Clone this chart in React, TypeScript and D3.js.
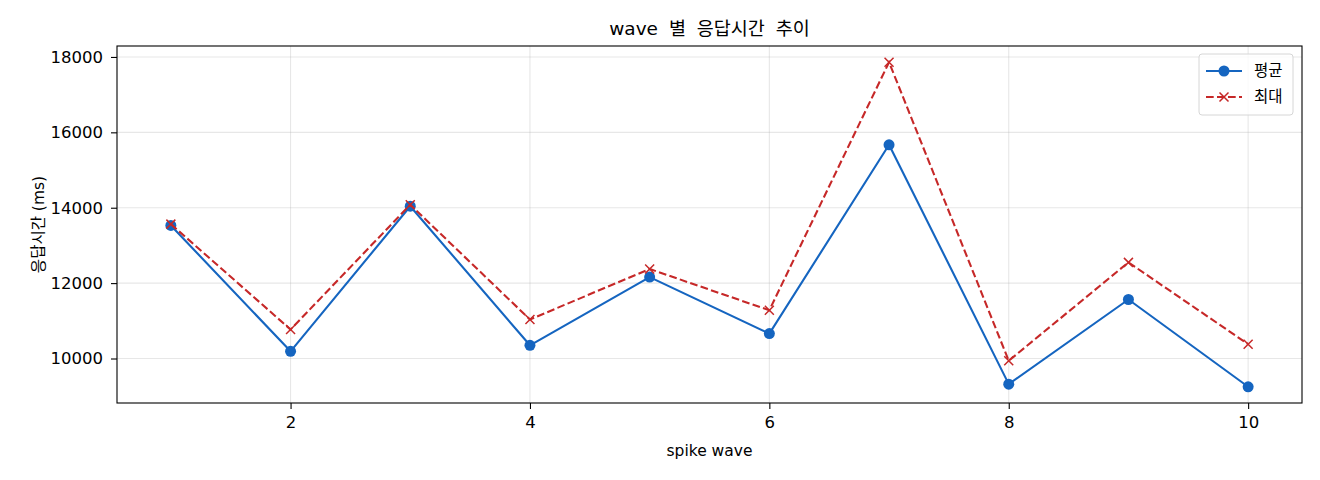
import { useRef, useEffect } from 'react';
import * as d3 from 'd3';

const waves = [1, 2, 3, 4, 5, 6, 7, 8, 9, 10];
const meanValues = [13530, 10190, 14040, 10350, 12160, 10660, 15670, 9320, 11565, 9250];
const maxValues = [13565, 10770, 14080, 11035, 12375, 11280, 17860, 9940, 12550, 10380];
const xTicks = [2, 4, 6, 8, 10];
const yTicks = [10000, 12000, 14000, 16000, 18000];
const seriesNames = ['평균', '최대'];

const WIDTH = 1320;
const HEIGHT = 480;
const MARGIN = { top: 46, right: 18, bottom: 77, left: 117 };
const FONT = '"DejaVu Sans", "Noto Sans CJK KR", sans-serif';
const BLUE = '#1565c0';
const RED = '#c62828';

export default function App() {
  const svgRef = useRef<SVGSVGElement>(null);

  useEffect(() => {
    if (!svgRef.current) return;
    const svg = d3.select(svgRef.current);
    svg.selectAll('*').remove();

    const innerWidth = WIDTH - MARGIN.left - MARGIN.right;
    const innerHeight = HEIGHT - MARGIN.top - MARGIN.bottom;

    // matplotlib-style 5% margins
    const xPad = (d3.max(waves)! - d3.min(waves)!) * 0.05;
    const x = d3.scaleLinear()
      .domain([d3.min(waves)! - xPad, d3.max(waves)! + xPad])
      .range([0, innerWidth]);

    const all = [...meanValues, ...maxValues];
    const lo = d3.min(all)!;
    const hi = d3.max(all)!;
    const yPad = (hi - lo) * 0.05;
    const y = d3.scaleLinear().domain([lo - yPad, hi + yPad]).range([innerHeight, 0]);

    svg.append('rect').attr('width', WIDTH).attr('height', HEIGHT).attr('fill', '#fff');

    const g = svg.append('g').attr('transform', `translate(${MARGIN.left},${MARGIN.top})`);

    // grid
    g.append('g')
      .selectAll('line')
      .data(xTicks)
      .join('line')
      .attr('x1', (d) => x(d))
      .attr('x2', (d) => x(d))
      .attr('y1', 0)
      .attr('y2', innerHeight)
      .attr('stroke', '#b0b0b0')
      .attr('stroke-opacity', 0.3)
      .attr('stroke-width', 1.1);
    g.append('g')
      .selectAll('line')
      .data(yTicks)
      .join('line')
      .attr('x1', 0)
      .attr('x2', innerWidth)
      .attr('y1', (d) => y(d))
      .attr('y2', (d) => y(d))
      .attr('stroke', '#b0b0b0')
      .attr('stroke-opacity', 0.3)
      .attr('stroke-width', 1.1);

    // axes
    const xAxis = g.append('g')
      .attr('transform', `translate(0,${innerHeight})`)
      .call(d3.axisBottom(x).tickValues(xTicks).tickFormat(d3.format('d')).tickSize(6).tickPadding(7));
    const yAxis = g.append('g')
      .call(d3.axisLeft(y).tickValues(yTicks).tickFormat(d3.format('d')).tickSize(6).tickPadding(8));
    [xAxis, yAxis].forEach((ax) => {
      ax.select('.domain').remove();
      ax.selectAll('line').attr('stroke', '#000').attr('stroke-width', 1.1);
      ax.selectAll('text')
        .attr('font-family', FONT)
        .attr('font-size', '16.5px')
        .attr('fill', '#000');
    });

    // lines
    const line = d3.line<number>()
      .x((_, i) => x(waves[i]))
      .y((d) => y(d));

    g.append('path')
      .datum(meanValues)
      .attr('fill', 'none')
      .attr('stroke', BLUE)
      .attr('stroke-width', 2.1)
      .attr('stroke-linejoin', 'round')
      .attr('d', line);

    g.selectAll('circle.mean')
      .data(meanValues)
      .join('circle')
      .attr('class', 'mean')
      .attr('cx', (_, i) => x(waves[i]))
      .attr('cy', (d) => y(d))
      .attr('r', 5.5)
      .attr('fill', BLUE);

    g.append('path')
      .datum(maxValues)
      .attr('fill', 'none')
      .attr('stroke', RED)
      .attr('stroke-width', 2.1)
      .attr('stroke-dasharray', '7.7,3.3')
      .attr('d', line);

    const cross = (sel: d3.Selection<SVGGElement, unknown, null, undefined>, cx: number, cy: number) => {
      const s = 4.5;
      sel.append('path')
        .attr('d', `M${cx - s},${cy - s}L${cx + s},${cy + s}M${cx - s},${cy + s}L${cx + s},${cy - s}`)
        .attr('stroke', RED)
        .attr('stroke-width', 1.5)
        .attr('fill', 'none');
    };
    const crosses = g.append('g');
    maxValues.forEach((d, i) => cross(crosses, x(waves[i]), y(d)));

    // frame
    g.append('rect')
      .attr('width', innerWidth)
      .attr('height', innerHeight)
      .attr('fill', 'none')
      .attr('stroke', '#000')
      .attr('stroke-width', 1.1);

    // title and labels
    svg.append('text')
      .attr('x', MARGIN.left + innerWidth / 2)
      .attr('y', 35)
      .attr('text-anchor', 'middle')
      .attr('font-family', FONT)
      .attr('font-size', '18.5px')
      .attr('word-spacing', '5px')
      .text('wave 별 응답시간 추이');

    svg.append('text')
      .attr('x', MARGIN.left + innerWidth / 2)
      .attr('y', 456)
      .attr('text-anchor', 'middle')
      .attr('font-family', FONT)
      .attr('font-size', '15.5px')
      .text('spike wave');

    svg.append('text')
      .attr('transform', `translate(44,${MARGIN.top + innerHeight / 2}) rotate(-90)`)
      .attr('text-anchor', 'middle')
      .attr('font-family', FONT)
      .attr('font-size', '15.5px')
      .text('응답시간 (ms)');

    // legend
    const lg = svg.append('g').attr('transform', 'translate(1199,54)');
    lg.append('rect')
      .attr('width', 94)
      .attr('height', 61)
      .attr('rx', 3)
      .attr('fill', '#fff')
      .attr('fill-opacity', 0.8)
      .attr('stroke', '#d6d6d6');
    const rows = [17, 43];
    lg.append('line')
      .attr('x1', 7).attr('x2', 43).attr('y1', rows[0]).attr('y2', rows[0])
      .attr('stroke', BLUE).attr('stroke-width', 2.1);
    lg.append('circle').attr('cx', 25).attr('cy', rows[0]).attr('r', 5.5).attr('fill', BLUE);
    lg.append('line')
      .attr('x1', 7).attr('x2', 43).attr('y1', rows[1]).attr('y2', rows[1])
      .attr('stroke', RED).attr('stroke-width', 2.1).attr('stroke-dasharray', '7.7,3.3');
    cross(lg, 25, rows[1]);
    seriesNames.forEach((name, i) => {
      lg.append('text')
        .attr('x', 55)
        .attr('y', rows[i])
        .attr('dy', '0.35em')
        .attr('font-family', FONT)
        .attr('font-size', '15.5px')
        .text(name);
    });
  }, []);

  return (
    <svg
      ref={svgRef}
      width={WIDTH}
      height={HEIGHT}
      style={{ position: 'absolute', left: 0, top: 0 }}
    />
  );
}
